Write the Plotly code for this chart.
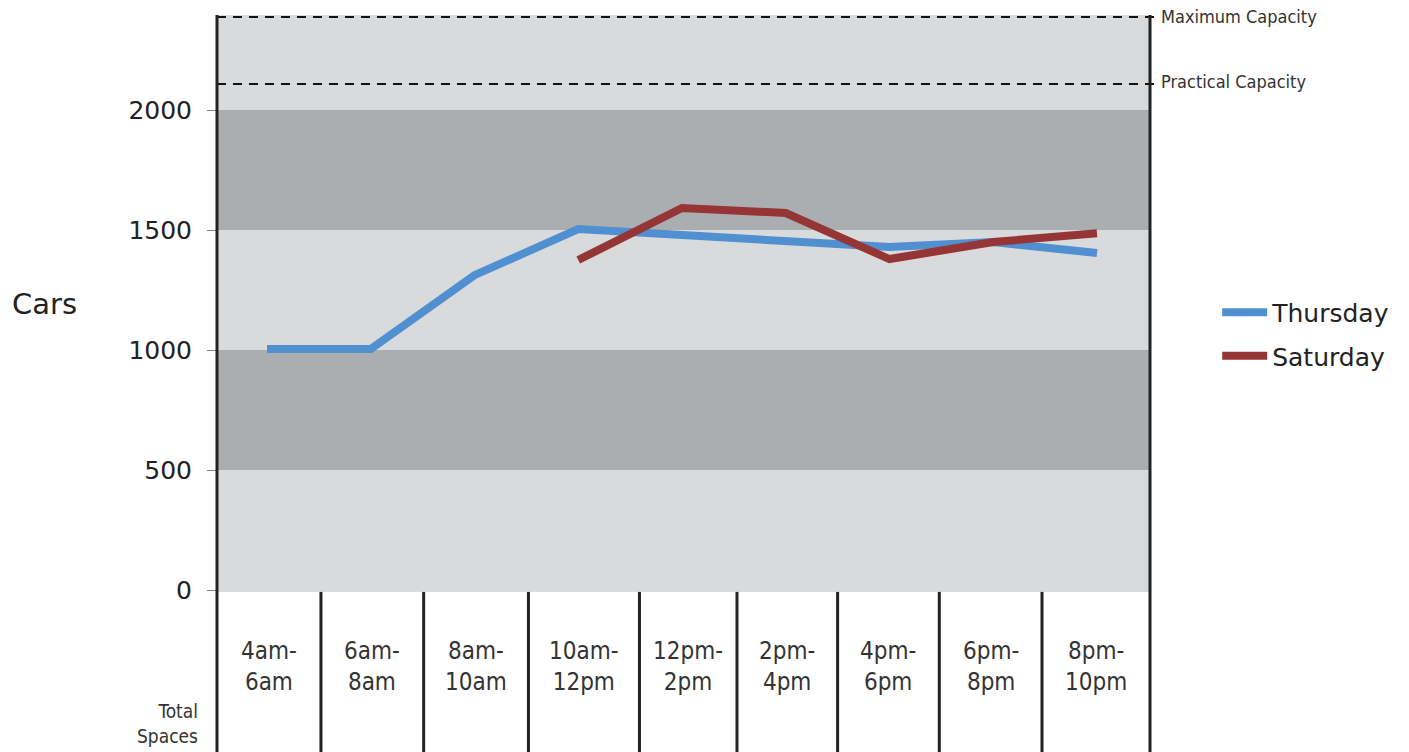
import plotly.graph_objects as go

categories = ["4am-<br>6am", "6am-<br>8am", "8am-<br>10am", "10am-<br>12pm", "12pm-<br>2pm",
              "2pm-<br>4pm", "4pm-<br>6pm", "6pm-<br>8pm", "8pm-<br>10pm"]
thursday = [1004, 1004, 1312, 1504, 1479, 1451, 1429, 1450, 1404]
saturday = [None, None, None, 1375, 1592, 1571, 1379, 1450, 1487]
y_ticks = [0, 500, 1000, 1500, 2000]
# table cell boundaries (in category units)
cell_edges = [-0.482, 0.52, 1.51, 2.52, 3.59, 4.53, 5.50, 6.48, 7.47, 8.511]
bands = [(-8, 500, "#d9dadc"), (500, 1000, "#abaeb0"), (1000, 1500, "#d9dadc"),
         (1500, 2000, "#abaeb0"), (2000, 2396, "#d9dadc")]
capacities = [("Maximum Capacity", 2388, 2388), ("Practical Capacity", 2108, 2118)]

NARROW = "Liberation Sans Narrow, DejaVu Sans Condensed, Roboto Condensed, Arial Narrow, sans-serif"
SANS = "DejaVu Sans, Liberation Sans, Arial, sans-serif"

xs = list(range(len(categories)))
fig = go.Figure()
fig.add_trace(go.Scatter(x=xs, y=thursday, mode="lines", name="Thursday",
                         line=dict(color="#5090d0", width=8), legendgroup="a"))
fig.add_trace(go.Scatter(x=xs, y=saturday, mode="lines", name="Saturday",
                         line=dict(color="#963535", width=8), legendgroup="b"))

shapes = []
for y0, y1, c in bands:
    shapes.append(dict(type="rect", xref="paper", yref="y", x0=0, x1=1, y0=y0, y1=y1,
                       fillcolor=c, line_width=0, layer="below"))
for name, v, ly in capacities:
    shapes.append(dict(type="line", xref="paper", yref="y", x0=0, x1=1.009, y0=v, y1=v,
                       line=dict(color="#111", width=2, dash="9px,7px")))
# outer vertical axis lines
for xp in (0, 1):
    shapes.append(dict(type="line", xref="paper", yref="paper", x0=xp, x1=xp, y0=0, y1=1,
                       line=dict(color="#222", width=3)))
# separators of the time-slot table
for e in cell_edges[1:-1]:
    shapes.append(dict(type="line", xref="x", yref="y", x0=e, x1=e, y0=-8, y1=-700,
                       line=dict(color="#222", width=3)))

annotations = []
for i, c in enumerate(categories):
    xc = (cell_edges[i] + cell_edges[i + 1]) / 2
    annotations.append(dict(x=xc, y=-317, xref="x", yref="y", text=c, showarrow=False,
                            font=dict(family=NARROW, size=24, color="#333"), align="center"))
for name, v, ly in capacities:
    annotations.append(dict(x=1.01, y=ly, xref="paper", yref="y", text=name, showarrow=False,
                            xanchor="left", font=dict(family=NARROW, size=18, color="#333")))
annotations.append(dict(x=-0.018, y=-555, xref="paper", yref="y", text="Total<br>Spaces",
                        showarrow=False, xanchor="right", align="right",
                        font=dict(family=NARROW, size=19, color="#333")))
annotations.append(dict(x=-0.222, y=1190, xref="paper", yref="y", text="Cars", showarrow=False,
                        xanchor="left", font=dict(family=SANS, size=29, color="#222")))

fig.update_layout(
    width=1409, height=752,
    margin=dict(l=217, r=259, t=15, b=0),
    paper_bgcolor="white", plot_bgcolor="white",
    showlegend=True,
    legend=dict(x=1.072, y=0.567, xanchor="left", yanchor="middle",
                font=dict(family=SANS, size=25, color="#222"), itemwidth=45,
                tracegroupgap=8, bgcolor="rgba(0,0,0,0)"),
    shapes=shapes, annotations=annotations,
    xaxis=dict(range=[-0.482, 8.511], showticklabels=False, showgrid=False, zeroline=False,
               ticks="", showline=False, fixedrange=True),
    yaxis=dict(range=[-675, 2396], tickvals=y_ticks, ticks="outside", ticklen=9,
               tickcolor="#888", tickwidth=1, showgrid=False, zeroline=False, showline=False,
               tickfont=dict(family=SANS, size=25, color="#222"), ticklabelstandoff=10),
)

fig.write_html("out.html")
